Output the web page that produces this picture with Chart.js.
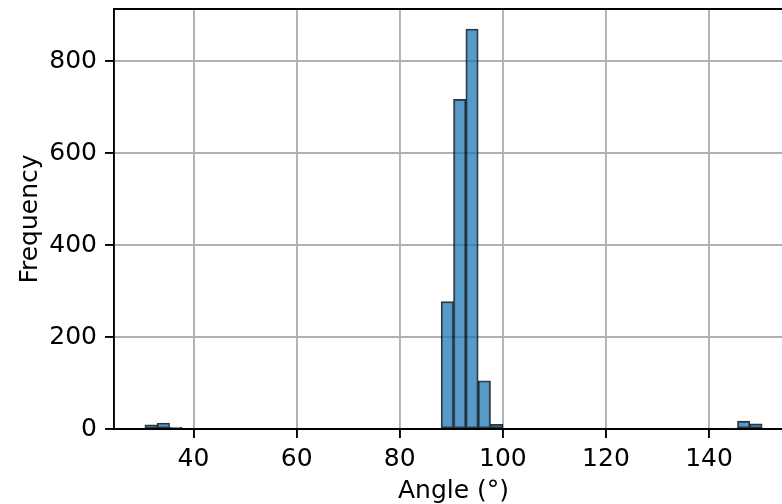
<!DOCTYPE html>
<html>
<head>
<meta charset="utf-8">
<title>Angle histogram</title>
<script src="https://cdn.jsdelivr.net/npm/chart.js@4.4.1/dist/chart.umd.min.js"></script>
<style>
  html, body { margin: 0; padding: 0; background: #fff; overflow: hidden; }
  #wrap { width: 800px; height: 504px; }
</style>
</head>
<body>
<div id="wrap"><canvas id="hist" width="800" height="504"></canvas></div>
<script>
// Histogram of measured angles: 50 equal bins between the smallest and largest angle.
const binLow = 30.56;
const binHigh = 150.3;
const binCounts = [
  9, 13, 4, 0, 0, 0, 0, 0, 0, 0,
  0, 0, 0, 0, 0, 0, 0, 0, 0, 0,
  0, 0, 0, 0, 277, 717, 870, 105, 10, 0,
  0, 0, 0, 0, 0, 0, 0, 0, 0, 0,
  0, 0, 0, 0, 0, 0, 0, 2, 17, 11
];
const xTicks = [40, 60, 80, 100, 120, 140];
const yTicks = [0, 200, 400, 600, 800];
const xLabel = 'Angle (°)';
const yLabel = 'Frequency';

const binWidth = (binHigh - binLow) / binCounts.length;
const binPoints = binCounts.map((c, i) => ({ x: binLow + (i + 0.5) * binWidth, y: c }));
const pad = 0.05 * (binHigh - binLow);
const yTop = Math.max(...binCounts) * 1.05;

const FONT = { family: 'DejaVu Sans', size: 25 };

// Top and right frame lines of the plotting box
const frame = {
  id: 'frame',
  afterDraw(chart) {
    const { ctx, chartArea: a } = chart;
    ctx.save();
    ctx.strokeStyle = '#000';
    ctx.lineWidth = 1.9;
    ctx.beginPath();
    ctx.moveTo(a.left - 1, a.top);
    ctx.lineTo(a.right, a.top);
    ctx.lineTo(a.right, a.bottom);
    ctx.stroke();
    ctx.restore();
  }
};

new Chart(document.getElementById('hist'), {
  type: 'bar',
  data: {
    datasets: [{
      data: binPoints,
      backgroundColor: 'rgba(31,119,180,0.75)',
      borderColor: 'rgba(0,0,0,0.8)',
      borderWidth: 1.4,
      borderSkipped: false,
      barPercentage: 1,
      categoryPercentage: 1
    }]
  },
  options: {
    responsive: false,
    animation: false,
    devicePixelRatio: 1,
    layout: { padding: { top: 9, right: 7, left: 0, bottom: 0 } },
    plugins: { legend: { display: false }, tooltip: { enabled: false } },
    scales: {
      x: {
        type: 'linear',
        offset: false,
        min: binLow - pad,
        max: binHigh + pad,
        z: 1,
        afterBuildTicks: s => { s.ticks = xTicks.map(v => ({ value: v })); },
        afterFit: s => { s.height = 75; s.paddingLeft = 0; s.paddingRight = 0; },
        grid: { offset: false, color: '#b0b0b0', lineWidth: 1.9, tickColor: '#000', tickLength: 9, tickWidth: 1.9 },
        border: { display: true, color: '#000', width: 1.9 },
        ticks: { color: '#000', font: FONT, padding: 6, maxRotation: 0 },
        title: { display: true, text: xLabel, color: '#000', font: FONT, padding: { top: 0, bottom: -2 } }
      },
      y: {
        type: 'linear',
        min: 0,
        max: yTop,
        z: 1,
        afterBuildTicks: s => { s.ticks = yTicks.map(v => ({ value: v })); },
        afterFit: s => { s.width = 114; s.paddingTop = 0; s.paddingBottom = 0; },
        grid: { color: '#b0b0b0', lineWidth: 1.9, tickColor: '#000', tickLength: 9, tickWidth: 1.9 },
        border: { display: true, color: '#000', width: 1.9 },
        ticks: { color: '#000', font: FONT, padding: 8 },
        title: { display: true, text: yLabel, color: '#000', font: FONT, padding: { top: 15, bottom: 0 } }
      }
    }
  },
  plugins: [frame]
});
</script>
</body>
</html>
